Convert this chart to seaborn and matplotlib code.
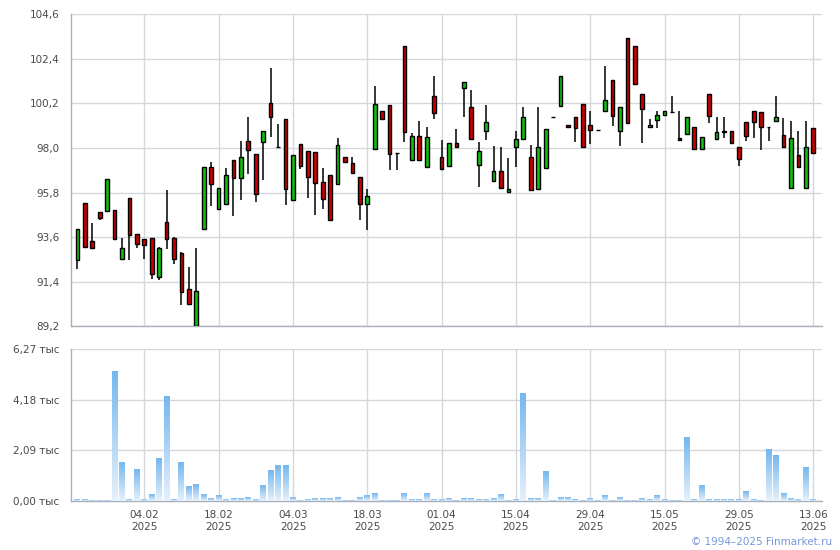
import numpy as np
import pandas as pd
import matplotlib
matplotlib.use("Agg")
import matplotlib.pyplot as plt
import seaborn as sns
from matplotlib.colors import LinearSegmentedColormap

# ---------------- data ----------------
opens = [92.46, 95.27, 93.40, 94.83, 94.91, 94.93, 92.51, 95.52, 93.74, 93.51,
         93.54, 91.65, 94.33, 93.54, 92.80, 91.03, 89.20, 94.02, 97.05, 95.01,
         95.22, 97.39, 96.51, 98.33, 97.69, 98.28, 100.21, 98.04, 99.42, 95.45,
         98.18, 97.84, 97.79, 96.31, 96.65, 96.24, 97.54, 97.28, 96.55, 95.22,
         97.94, 99.81, 100.11, 97.74, 103.02, 97.39, 98.58, 97.05, 100.55, 97.54,
         97.10, 98.23, 100.95, 100.01, 97.15, 98.83, 96.36, 96.85, 95.85, 98.07,
         98.43, 97.54, 95.96, 97.00, 99.52, 100.08, 99.12, 99.52, 100.16, 99.12,
         98.87, 99.81, 101.34, 98.83, 103.42, 103.02, 100.65, 99.02, 99.37, 99.61,
         99.78, 98.48, 98.68, 99.02, 97.94, 100.65, 98.43, 98.83, 98.83, 98.04,
         99.27, 99.81, 99.76, 99.02, 99.32, 98.63, 96.01, 97.64, 96.01, 98.97]
highs = [93.99, 95.27, 94.28, 94.83, 96.46, 94.93, 93.54, 95.52, 93.74, 93.51,
         93.54, 93.10, 95.91, 93.59, 92.87, 92.15, 93.05, 97.05, 97.29, 96.01,
         97.00, 97.39, 98.33, 99.52, 97.69, 98.83, 101.93, 99.19, 99.42, 97.64,
         98.18, 97.84, 97.79, 97.00, 96.65, 98.48, 97.54, 97.54, 96.55, 95.99,
         101.05, 99.81, 100.11, 97.74, 103.02, 98.73, 99.32, 99.02, 101.54, 98.38,
         98.23, 98.92, 101.24, 100.87, 98.28, 100.11, 98.08, 98.05, 97.49, 98.83,
         100.01, 98.13, 100.01, 98.92, 99.52, 101.54, 99.12, 99.52, 100.16, 99.81,
         98.87, 102.03, 101.34, 100.01, 103.42, 103.02, 100.65, 99.42, 99.81, 99.81,
         100.55, 99.81, 99.52, 99.02, 98.53, 100.65, 99.52, 99.52, 98.83, 98.04,
         99.27, 99.81, 99.76, 99.02, 100.55, 99.47, 99.32, 98.83, 99.32, 98.97]
lows = [92.01, 93.13, 93.05, 94.45, 94.91, 93.53, 92.51, 92.49, 93.05, 92.54,
        91.55, 91.50, 93.03, 92.28, 90.24, 90.29, 89.20, 94.02, 95.16, 95.01,
        95.22, 94.66, 95.45, 96.74, 95.35, 96.41, 98.53, 98.04, 95.21, 95.45,
        96.98, 95.55, 94.71, 95.01, 94.43, 96.20, 97.29, 96.75, 94.47, 93.94,
        97.94, 99.42, 96.93, 96.93, 98.32, 97.39, 97.39, 97.05, 99.42, 96.95,
        97.10, 98.04, 99.55, 98.43, 96.09, 98.41, 96.36, 96.01, 95.85, 97.08,
        98.43, 95.91, 95.96, 97.00, 99.52, 100.04, 99.02, 98.32, 98.04, 98.22,
        98.87, 99.81, 99.10, 98.12, 99.22, 101.14, 98.27, 99.02, 99.01, 99.56,
        99.78, 98.38, 98.68, 97.94, 97.94, 99.22, 98.43, 98.48, 98.23, 97.10,
        98.33, 98.48, 97.89, 98.33, 99.27, 98.04, 96.01, 97.05, 96.01, 97.74]
closes = [93.99, 93.13, 93.05, 94.53, 96.46, 93.53, 93.05, 93.72, 93.28, 93.23,
          91.80, 93.05, 93.53, 92.51, 90.91, 90.29, 90.93, 97.05, 96.24, 96.01,
          96.67, 96.51, 97.56, 97.92, 95.72, 98.83, 99.52, 98.04, 95.99, 97.64,
          97.13, 96.59, 96.29, 95.50, 94.43, 98.13, 97.29, 96.75, 95.22, 95.62,
          100.16, 99.42, 97.72, 97.74, 98.81, 98.58, 97.39, 98.53, 99.75, 96.95,
          98.23, 98.04, 101.24, 98.43, 97.84, 99.27, 96.85, 96.01, 95.96, 98.43,
          99.52, 95.91, 98.04, 98.92, 99.52, 101.54, 99.02, 98.97, 98.04, 98.87,
          98.87, 100.36, 99.57, 100.01, 99.22, 101.14, 99.91, 99.12, 99.61, 99.81,
          99.78, 98.38, 99.52, 97.94, 98.53, 99.57, 98.78, 98.78, 98.23, 97.44,
          98.58, 99.27, 99.02, 99.02, 99.52, 98.04, 98.48, 97.05, 98.04, 97.74]
# volume, thousands
volumes = [0.08, 0.08, 0.04, 0.04, 0.04, 5.36, 1.57, 0.08, 1.32, 0.08,
           0.25, 1.77, 4.33, 0.08, 1.57, 0.58, 0.70, 0.25, 0.12, 0.21,
           0.08, 0.12, 0.12, 0.16, 0.08, 0.66, 1.24, 1.48, 1.48, 0.16,
           0.04, 0.08, 0.12, 0.12, 0.12, 0.16, 0.04, 0.04, 0.16, 0.21,
           0.29, 0.04, 0.04, 0.04, 0.29, 0.08, 0.08, 0.29, 0.08, 0.08,
           0.12, 0.04, 0.12, 0.12, 0.08, 0.08, 0.12, 0.25, 0.04, 0.08,
           4.45, 0.12, 0.12, 1.20, 0.04, 0.16, 0.16, 0.08, 0.04, 0.12,
           0.04, 0.21, 0.04, 0.16, 0.04, 0.04, 0.12, 0.08, 0.21, 0.08,
           0.04, 0.04, 2.60, 0.08, 0.62, 0.08, 0.08, 0.08, 0.08, 0.08,
           0.41, 0.08, 0.04, 2.14, 1.86, 0.29, 0.12, 0.08, 1.40, 0.08]
tick_bars = [9, 19, 29, 39, 49, 59, 69, 79, 89, 99]
tick_labels = ["04.02\n2025", "18.02\n2025", "04.03\n2025", "18.03\n2025",
               "01.04\n2025", "15.04\n2025", "29.04\n2025", "15.05\n2025",
               "29.05\n2025", "13.06\n2025"]
price_ticks = [89.2, 91.4, 93.6, 95.8, 98.0, 100.2, 102.4, 104.6]
volume_ticks = [0.0, 2.09, 4.18, 6.27]

df = pd.DataFrame({"bar": np.arange(len(opens)), "open": opens, "high": highs,
                   "low": lows, "close": closes, "volume": volumes})

# ---------------- style ----------------
sns.set_theme(style="white")
plt.rcParams['font.family'] = ['DejaVu Sans']
SPINE = "#a9aeb8"
GRID = "#d4d8dc"
TXT = "#4a4a4a"
GREEN = "#10c010"
RED = "#cc0000"

fig = plt.figure(figsize=(8.4, 5.5), dpi=100)
W, H = 840, 550
left, right = 70.7, 821.7
ax1 = fig.add_axes([left / W, (H - 326.3) / H, (right - left) / W, (326.3 - 14.3) / H])
ax2 = fig.add_axes([left / W, (H - 501) / H, (right - left) / W, (501 - 349) / H])

# ---------------- candles ----------------
body_lo = np.minimum(df["open"], df["close"])
body_h = np.abs(df["close"] - df["open"])
colors = np.where(df["close"] >= df["open"], GREEN, RED)
ax1.vlines(df["bar"], df["low"], df["high"], color="black", lw=1.1, zorder=3)
ax1.bar(df["bar"], body_h, bottom=body_lo, width=0.5, color=colors,
        edgecolor="black", linewidth=1.0, zorder=4)

# ---------------- volume (seaborn bars with gradient) ----------------
sns.barplot(data=df, x="bar", y="volume", ax=ax2, width=0.8, color="#9ccbf2",
            saturation=1, zorder=3)
cmap = LinearSegmentedColormap.from_list("vol", ["#e6f1fb", "#74b7ef"])
grad = np.linspace(0, 1, 128).reshape(-1, 1)
for p in list(ax2.patches):
    x0, w, h = p.get_x(), p.get_width(), p.get_height()
    p.set_facecolor("none")
    p.set_edgecolor("none")
    ax2.imshow(grad, extent=[x0, x0 + w, 0, h], origin="lower", aspect="auto",
               cmap=cmap, zorder=3, interpolation="bilinear")

# ---------------- axes formatting ----------------
xlim = (-0.9, 100.14)
for ax in (ax1, ax2):
    ax.set_xlim(*xlim)
    ax.set_xticks(tick_bars)
    for s in ("top", "right"):
        ax.spines[s].set_visible(False)
    for s in ("left", "bottom"):
        ax.spines[s].set_color(SPINE)
        ax.spines[s].set_linewidth(1.0)
    ax.grid(True, color=GRID, lw=1.0, zorder=0)
    ax.set_axisbelow(True)
    ax.tick_params(axis="both", which="both", direction="out", length=5,
                   width=1, color=SPINE, labelsize=7.5, labelcolor=TXT, pad=3)
    ax.set_xlabel("")
    ax.set_ylabel("")

ax1.set_ylim(89.2, 104.6)
ax1.set_yticks(price_ticks)
ax1.set_yticklabels([f"{v:.1f}".replace(".", ",") for v in price_ticks])
ax1.set_xticklabels([])
ax1.yaxis.get_major_ticks()[-1].tick1line.set_visible(False)

ax2.set_ylim(0, 6.27)
ax2.set_yticks(volume_ticks)
ax2.set_yticklabels([f"{v:.2f} тыс".replace(".", ",") for v in volume_ticks])
ax2.set_xticklabels(tick_labels, linespacing=1.3)
ax2.tick_params(axis="x", pad=1.5)

fig.text(832 / W, 1 - 542 / H, "© 1994–2025 Finmarket.ru", ha="right", va="center",
         color="#7596dc", fontsize=7.5)

fig.savefig("out.png", dpi=100)
